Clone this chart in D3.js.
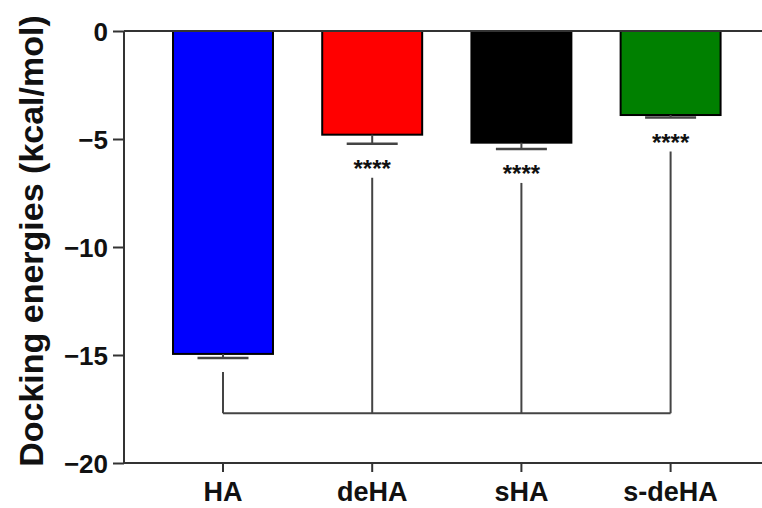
<!DOCTYPE html>
<html>
<head>
<meta charset="utf-8">
<script src="https://cdn.jsdelivr.net/npm/d3@7/dist/d3.min.js"></script>
<style>
  html, body { margin: 0; padding: 0; background: #fff; }
  svg { display: block; }
  text { font-family: "Liberation Sans", Arial, sans-serif; font-weight: bold; fill: #111; }
</style>
</head>
<body>
<svg id="chart" width="762" height="508"></svg>
<script>
// ---- data ----
const categories = ["HA", "deHA", "sHA", "s-deHA"];
const values = [-14.95, -4.8, -5.17, -3.89];
const errors = [0.19, 0.42, 0.29, 0.12];
const colors = ["#0000ff", "#ff0000", "#000000", "#008000"];
const yTicks = [0, -5, -10, -15, -20];
const sigLabels = ["", "****", "****", "****"];
const bracketLevel = -17.7;
const yLabel = "Docking energies (kcal/mol)";

// ---- layout ----
const svg = d3.select("#chart");
const x0 = 124, x1 = 762, yTop = 31, yBot = 463;

const y = d3.scaleLinear().domain([0, -20]).range([yTop, yBot]);
const x = d3.scaleBand().domain(categories)
  .range([148.4, 745.2]).paddingInner(0.33).paddingOuter(0.165);

const axisColor = "#333";
const lineColor = "#444";

// bars
svg.selectAll("rect.bar").data(categories).enter().append("rect")
  .attr("class", "bar")
  .attr("x", d => x(d))
  .attr("width", x.bandwidth())
  .attr("y", y(0))
  .attr("height", (d, i) => y(values[i]) - y(0))
  .attr("fill", (d, i) => colors[i])
  .attr("stroke", "#000")
  .attr("stroke-width", 2);

// error bars
const capW = 51;
categories.forEach((c, i) => {
  const cx = x(c) + x.bandwidth() / 2;
  const yb = y(values[i]);
  const ye = y(values[i] - errors[i]);
  svg.append("line").attr("x1", cx).attr("x2", cx).attr("y1", yb).attr("y2", ye)
    .attr("stroke", lineColor).attr("stroke-width", 2);
  svg.append("line").attr("x1", cx - capW / 2).attr("x2", cx + capW / 2).attr("y1", ye).attr("y2", ye)
    .attr("stroke", lineColor).attr("stroke-width", 2.5);
});

// zero baseline
svg.append("line").attr("x1", x0).attr("x2", x1).attr("y1", y(0)).attr("y2", y(0))
  .attr("stroke", axisColor).attr("stroke-width", 2);

// y axis
const yAxis = d3.axisLeft(y).tickValues(yTicks).tickSize(11).tickPadding(5)
  .tickFormat(d3.format("d"));
const gy = svg.append("g").attr("transform", `translate(${x0},0)`).call(yAxis);
gy.select(".domain").attr("stroke", axisColor).attr("stroke-width", 2).attr("d", `M0,${yTop}V${yBot}`);
gy.selectAll(".tick line").attr("stroke", axisColor).attr("stroke-width", 2);
gy.selectAll(".tick text").attr("font-size", 26).attr("font-family", "Liberation Sans, Arial, sans-serif")
  .attr("font-weight", "bold").attr("fill", "#111").attr("dy", "0.36em");

// x axis
const xAxis = d3.axisBottom(x).tickSize(9).tickPadding(10);
const gx = svg.append("g").attr("transform", `translate(0,${yBot})`).call(xAxis);
gx.select(".domain").attr("stroke", axisColor).attr("stroke-width", 2).attr("d", `M${x0},0H${x1}`);
gx.selectAll(".tick line").attr("stroke", axisColor).attr("stroke-width", 2);
gx.selectAll(".tick text").attr("font-size", 27).attr("font-family", "Liberation Sans, Arial, sans-serif")
  .attr("font-weight", "bold").attr("fill", "#111");

// significance bracket
const yBr = y(bracketLevel);
const cxs = categories.map(c => x(c) + x.bandwidth() / 2);
svg.append("line").attr("x1", cxs[0]).attr("x2", cxs[cxs.length - 1]).attr("y1", yBr).attr("y2", yBr)
  .attr("stroke", lineColor).attr("stroke-width", 2);
categories.forEach((c, i) => {
  const ye = y(values[i] - errors[i]);
  const top = i === 0 ? ye + 14 : ye + 34;
  svg.append("line").attr("x1", cxs[i]).attr("x2", cxs[i]).attr("y1", top).attr("y2", yBr)
    .attr("stroke", lineColor).attr("stroke-width", 2);
  if (sigLabels[i]) {
    svg.append("text").attr("x", cxs[i]).attr("y", ye + 20 + 13)
      .attr("text-anchor", "middle").attr("font-size", 24).text(sigLabels[i]);
  }
});

// y label
svg.append("text")
  .attr("transform", `translate(43,241) rotate(-90)`)
  .attr("text-anchor", "middle")
  .attr("font-size", 34)
  .text(yLabel);
</script>
</body>
</html>
